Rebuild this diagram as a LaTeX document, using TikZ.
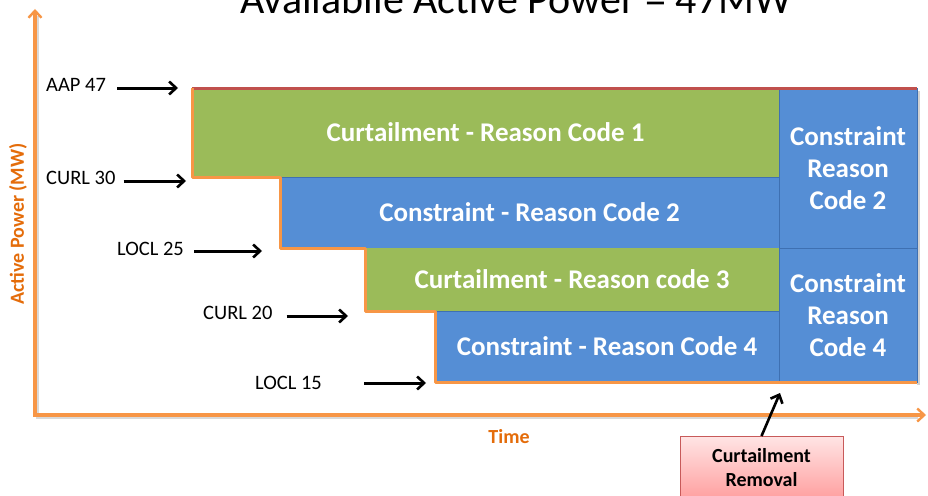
\documentclass[tikz,border=0pt]{standalone}
\usepackage{fontspec}
\setmainfont{Carlito}
\usetikzlibrary{arrows.meta}

\definecolor{boxgreen}{RGB}{155,187,89}
\definecolor{boxblue}{RGB}{85,142,213}
\definecolor{edgeblue}{RGB}{62,112,178}
\definecolor{stepline}{RGB}{247,150,70}
\definecolor{capline}{RGB}{192,80,77}
\definecolor{axisorange}{RGB}{247,150,70}
\definecolor{labelorange}{RGB}{228,108,10}
\definecolor{notetop}{RGB}{255,228,228}
\definecolor{notebottom}{RGB}{255,160,160}
\definecolor{noteedge}{RGB}{200,90,90}

\begin{document}
\begin{tikzpicture}[x=1pt,y=-1pt,
  band/.style={anchor=north west, inner sep=0pt, outer sep=0pt, text=white,
    font=\fontsize{27}{32}\selectfont\bfseries, align=center},
  greenband/.style={band, fill=boxgreen},
  blueband/.style={band, fill=boxblue, draw=edgeblue, line width=0.7pt},
  level/.style={anchor=west, inner sep=0pt, font=\fontsize{20.5}{24}\selectfont},
  pointer/.style={-{Straight Barb[length=7pt,width=13pt,line width=2.6pt]}, line width=3pt, black},
  axisline/.style={line width=3.2pt, axisorange},
  axislabel/.style={font=\fontsize{20}{24}\selectfont\bfseries, text=labelorange, inner sep=0pt}
]
\useasboundingbox (0,0) rectangle (928,495);

% title
\node[font=\fontsize{42}{48}\selectfont, anchor=base, inner sep=0pt] (title) at (516,14)
  {Availabile Active Power = 47MW};

% axes with a soft shadow
\coordinate (origin) at (35,415);
\coordinate (ytip) at (35,9);
\coordinate (xtip) at (926,415);
\draw[line width=3pt, black, opacity=0.15] (37,16) -- (37,417) -- (918,417);
\draw[axisline, {Straight Barb[length=7pt,width=13pt,line width=2.4pt]}-{Straight Barb[length=7pt,width=13pt,line width=2.4pt]}]
  (ytip) -- (origin) -- (xtip);
\node[axislabel, rotate=90] (ylab) at (18,224) {Active Power (MW)};
\node[axislabel] (xlab) at (509,437) {Time};

% shadow of the right column
\fill[black, opacity=0.18] (917,91) rectangle (920,385);

% stacked bands
\node[blueband, minimum width=499pt, minimum height=71pt] (k2) at (280,177) {Constraint - Reason Code 2};
\node[blueband, minimum width=344pt, minimum height=71pt] (k4) at (435,311) {Constraint - Reason Code 4};
\node[greenband, minimum width=587pt, minimum height=89pt] (c1) at (192,88) {Curtailment - Reason Code 1};
\node[greenband, minimum width=414pt, minimum height=63pt] (c3) at (365,248) {Curtailment - Reason code 3};
\node[blueband, minimum width=138pt, minimum height=160pt] (r2) at (779,88) {Constraint\\Reason\\Code 2};
\node[blueband, minimum width=138pt, minimum height=134pt] (r4) at (779,248) {Constraint\\Reason\\Code 4};

% available power cap and stepped limit line
\draw[capline, line width=3pt] (c1.north west) -- (r2.north east);
\draw[stepline, line width=3pt, line join=round]
  (c1.north west) -- (c1.south west) -- (k2.north west) -- (k2.south west)
  -- (c3.north west) -- (c3.south west) -- (k4.north west) -- (k4.south west)
  -- (r4.south east);

% level labels with pointers
\node[level] (aap) at (46,85) {AAP 47};
\node[level] (curlA) at (46,178) {CURL 30};
\node[level] (loclA) at (117,249) {LOCL 25};
\node[level] (curlB) at (203,313) {CURL 20};
\node[level] (loclB) at (255,383) {LOCL 15};

\coordinate (aapHead) at (178,88);
\coordinate (curlAHead) at (186,181);
\coordinate (loclAHead) at (262,251);
\coordinate (curlBHead) at (348,316);
\coordinate (loclBHead) at (426,383);

\draw[pointer] ([xshift=11pt,yshift=-3pt]aap.east) -- (aapHead);
\draw[pointer] ([xshift=8pt,yshift=-3pt]curlA.east) -- (curlAHead);
\draw[pointer] ([xshift=10pt,yshift=-2pt]loclA.east) -- (loclAHead);
\draw[pointer] ([xshift=14pt,yshift=-3pt]curlB.east) -- (curlBHead);
\draw[pointer] ([xshift=42pt]loclB.east) -- (loclBHead);

% removal note
\node[anchor=north, minimum width=163pt, minimum height=62pt, inner sep=0pt,
  draw=noteedge, line width=0.8pt, top color=notetop, bottom color=notebottom,
  font=\fontsize{20}{24}\selectfont\bfseries, align=center] (removal) at (761.5,436)
  {Curtailment\\Removal};
\draw[pointer, line width=2.6pt] (removal.north) -- ([xshift=1pt,yshift=-11pt]r4.south west);
\end{tikzpicture}
\end{document}
